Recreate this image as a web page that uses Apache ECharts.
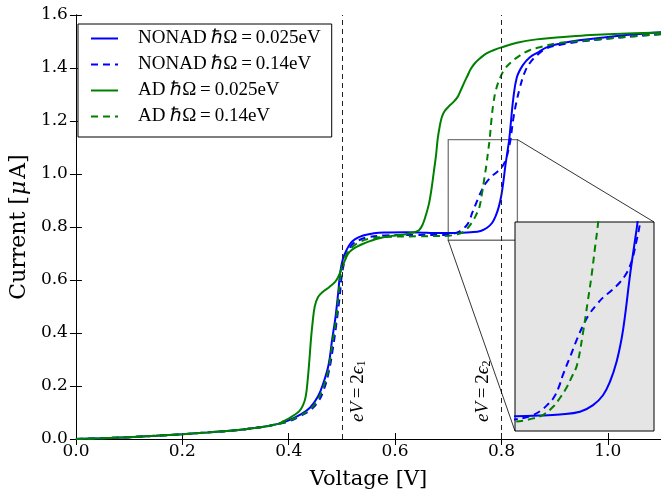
<!DOCTYPE html>
<html>
<head>
<meta charset="utf-8">
<script src="https://cdn.jsdelivr.net/npm/echarts@6/dist/echarts.min.js"></script>
<style>
  html, body { margin: 0; padding: 0; background: #fff; }
  #chart { width: 661px; height: 495px; }
</style>
</head>
<body>
<div id="chart"></div>
<script>
// shared low-bias tail, identical for all four curves
var lowTail = [[0,0],[0.05,0.003],[0.1,0.007],[0.15,0.012],[0.2,0.018],[0.25,0.025],[0.3,0.033],[0.35,0.045],[0.38,0.057]];

var nonad025 = [[0.4,0.07],[0.42,0.09],[0.44,0.118],[0.455,0.16],[0.465,0.21],[0.475,0.28],[0.482,0.38],[0.488,0.46],
  [0.493,0.55],[0.497,0.63],[0.502,0.68],[0.507,0.705],[0.515,0.735],[0.525,0.754],[0.54,0.768],[0.56,0.776],[0.58,0.779],
  [0.62,0.78],[0.66,0.778],[0.70,0.777],[0.7234,0.778],[0.742,0.780],[0.7608,0.785],[0.773,0.797],[0.7823,0.815],
  [0.7889,0.84],[0.795,0.876],[0.7998,0.919],[0.803,0.961],[0.8076,1.034],[0.812,1.094],[0.8146,1.13],[0.818,1.2],[0.822,1.28],
  [0.829,1.365],[0.84,1.41],[0.853,1.44],[0.87,1.46],[0.885,1.478],[0.91,1.492],[0.946,1.505],[1.0,1.517],[1.05,1.527],[1.1,1.535]];

var nonad014 = [[0.4,0.066],[0.42,0.085],[0.44,0.108],[0.455,0.14],[0.465,0.18],[0.475,0.25],[0.483,0.34],[0.49,0.44],
  [0.496,0.54],[0.5,0.62],[0.505,0.67],[0.512,0.71],[0.52,0.735],[0.534,0.752],[0.55,0.762],[0.58,0.768],[0.64,0.77],
  [0.69,0.77],[0.70,0.771],[0.714,0.777],[0.7234,0.786],[0.73,0.797],[0.736,0.81],[0.741,0.83],[0.745,0.853],[0.752,0.887],
  [0.758,0.917],[0.764,0.943],[0.770,0.964],[0.776,0.979],[0.782,0.992],[0.79,1.005],[0.798,1.02],[0.804,1.036],
  [0.809,1.058],[0.813,1.09],[0.8169,1.128],[0.822,1.204],[0.828,1.27],[0.835,1.328],[0.843,1.38],[0.853,1.418],
  [0.868,1.45],[0.885,1.474],[0.909,1.487],[0.95,1.5],[0.996,1.51],[1.05,1.52],[1.1,1.527]];

var ad025 = [[0.39,0.067],[0.4,0.077],[0.41,0.09],[0.42,0.105],[0.427,0.128],[0.432,0.16],[0.436,0.229],[0.439,0.3],
  [0.442,0.379],[0.445,0.44],[0.449,0.5],[0.455,0.535],[0.464,0.555],[0.476,0.573],[0.488,0.595],[0.495,0.62],
  [0.501,0.65],[0.507,0.68],[0.514,0.705],[0.525,0.722],[0.538,0.735],[0.55,0.745],[0.562,0.753],[0.58,0.762],
  [0.6,0.768],[0.62,0.773],[0.635,0.78],[0.645,0.788],[0.652,0.81],[0.658,0.845],[0.664,0.89],[0.669,0.95],
  [0.673,1.01],[0.677,1.07],[0.68,1.13],[0.684,1.18],[0.688,1.215],[0.693,1.237],[0.7,1.253],[0.71,1.272],
  [0.718,1.292],[0.724,1.318],[0.73,1.345],[0.736,1.37],[0.742,1.395],[0.75,1.418],[0.76,1.437],[0.772,1.455],
  [0.785,1.467],[0.8,1.478],[0.829,1.495],[0.866,1.508],[0.903,1.515],[0.95,1.522],[1.0,1.527],[1.05,1.531],[1.1,1.534]];

var ad014 = [[0.4,0.068],[0.42,0.087],[0.44,0.112],[0.455,0.15],[0.465,0.195],[0.475,0.265],[0.482,0.36],[0.489,0.45],
  [0.494,0.55],[0.498,0.625],[0.503,0.67],[0.51,0.7],[0.52,0.725],[0.535,0.745],[0.55,0.755],[0.58,0.762],[0.64,0.765],
  [0.70,0.767],[0.715,0.772],[0.726,0.779],[0.7356,0.794],[0.742,0.81],[0.748,0.828],[0.753,0.848],[0.758,0.87],
  [0.7637,0.93],[0.768,0.985],[0.7717,1.034],[0.7748,1.083],[0.7777,1.128],[0.781,1.2],[0.785,1.268],[0.79,1.32],
  [0.798,1.365],[0.806,1.395],[0.816,1.418],[0.833,1.445],[0.853,1.467],[0.872,1.478],[0.903,1.493],[0.95,1.502],
  [0.983,1.508],[1.04,1.518],[1.1,1.528]];

var names = ['NONAD ℏΩ\u2009=\u20090.025eV', 'NONAD ℏΩ\u2009=\u20090.14eV', 'AD ℏΩ\u2009=\u20090.025eV', 'AD ℏΩ\u2009=\u20090.14eV'];
var curves = [lowTail.concat(nonad025), lowTail.concat(nonad014), lowTail.concat(ad025), lowTail.concat(ad014)];
var colors = ['#0000ff', '#0000ff', '#008000', '#008000'];
var dashed = [false, true, false, true];

// zoomed window shown in the inset
var insetX = [0.70, 0.83];
var insetY = [0.75, 1.13];
var levels = [0.5, 0.8];

var serif = 'DejaVu Serif';
var mathFont = 'Liberation Serif';

var chart = echarts.init(document.getElementById('chart'));

function mk(i, axisIdx) {
  return {
    name: names[i],
    type: 'line',
    data: curves[i],
    xAxisIndex: axisIdx,
    yAxisIndex: axisIdx,
    symbol: 'none',
    showSymbol: false,
    smooth: 0.4,
    lineStyle: { color: colors[i], width: 2, type: dashed[i] ? [7, 5] : 'solid' },
    itemStyle: { color: colors[i] },
    z: axisIdx ? 8 : 3
  };
}

var tickFmt = function (v) {
  return Math.abs(v * 5 - Math.round(v * 5)) < 1e-6 ? v.toFixed(1) : '';
};

var epsLabel = function (sub, pos, dist) {
  return {
    show: true,
    position: pos,
    distance: dist,
    formatter: '{i|eV}{r|\u2009=\u20092}{i|ϵ}{s|' + sub + '}',
    rich: {
      i: { fontFamily: mathFont, fontStyle: 'italic', fontSize: 19, color: '#000' },
      r: { fontFamily: mathFont, fontSize: 19, color: '#000' },
      s: { fontFamily: mathFont, fontSize: 12, color: '#000', padding: [7, 0, 0, 0] }
    }
  };
};

var series = [];
for (var i = 0; i < 4; i++) series.push(mk(i, 0));
for (var j = 0; j < 4; j++) series.push(mk(j, 2));

series[0].markLine = {
  silent: true,
  symbol: 'none',
  animation: false,
  lineStyle: { color: '#222', width: 1, type: [5, 4] },
  data: [
    { xAxis: levels[0], label: epsLabel('1', 'insideStartBottom', [17, 7]) },
    { xAxis: levels[1], label: epsLabel('2', 'insideStartTop', [17, 9]) }
  ]
};
series[0].markArea = {
  silent: true,
  itemStyle: { color: 'rgba(0,0,0,0)', borderColor: '#777', borderWidth: 1.3 },
  data: [[{ coord: [insetX[0], insetY[0]] }, { coord: [insetX[1], insetY[1]] }]]
};

var mainX = {
  gridIndex: 0, type: 'value', min: 0, max: 1.1, interval: 0.2,
  axisLine: { show: true, lineStyle: { color: '#000', width: 1 } },
  axisTick: { show: true, inside: true, length: 6, lineStyle: { color: '#000' } },
  splitLine: { show: false }
};
var mainY = {
  gridIndex: 0, type: 'value', min: 0, max: 1.6, interval: 0.2,
  axisLine: { show: true, lineStyle: { color: '#000', width: 1 } },
  axisTick: { show: true, inside: true, length: 6, lineStyle: { color: '#000' } },
  splitLine: { show: false }
};

chart.setOption({
  animation: false,
  backgroundColor: '#fff',
  grid: [
    { left: 70, top: 15, width: 593, height: 426 },
    { left: 515, top: 222, width: 139, height: 209, show: true, backgroundColor: '#e5e5e5', borderColor: '#000', borderWidth: 1, z: 5 }
  ],
  legend: {
    data: names,
    orient: 'vertical',
    left: 78, top: 24,
    padding: [5, 11, 11, 12],
    itemWidth: 27, itemHeight: 14, itemGap: 7,
    itemStyle: { opacity: 0 },
    borderColor: '#000', borderWidth: 1, backgroundColor: '#fff',
    textStyle: { fontFamily: mathFont, fontSize: 19, color: '#000', padding: [0, 0, 0, 15], lineHeight: 19 },
    selectedMode: false
  },
  xAxis: [
    Object.assign({}, mainX, {
      position: 'bottom',
      name: 'Voltage [V]', nameLocation: 'middle', nameGap: 30,
      nameTextStyle: { fontFamily: serif, fontSize: 21, color: '#000' },
      axisLabel: { fontFamily: serif, fontSize: 17, color: '#000', margin: 4, formatter: tickFmt, showMaxLabel: false }
    }),
    Object.assign({}, mainX, { position: 'top', axisLabel: { show: false } }),
    { gridIndex: 1, type: 'value', min: insetX[0], max: insetX[1], show: false }
  ],
  yAxis: [
    Object.assign({}, mainY, {
      position: 'left',
      name: 'Current [{i|μ}A]', nameLocation: 'middle', nameGap: 42,
      nameTextStyle: { fontFamily: serif, fontSize: 22, color: '#000',
        rich: { i: { fontFamily: serif, fontStyle: 'italic', fontSize: 22, color: '#000', padding: [0, 2, 0, 1] } } },
      axisLabel: { fontFamily: serif, fontSize: 17, color: '#000', margin: 8, formatter: function (v) { return v.toFixed(1); } }
    }),
    Object.assign({}, mainY, { position: 'right', axisLabel: { show: false } }),
    { gridIndex: 1, type: 'value', min: insetY[0], max: insetY[1], show: false }
  ],
  series: series
});

// connector lines between the zoom box and the inset
var pTR = chart.convertToPixel({ gridIndex: 0 }, [insetX[1], insetY[1]]);
var pBL = chart.convertToPixel({ gridIndex: 0 }, [insetX[0], insetY[0]]);
var qTR = chart.convertToPixel({ gridIndex: 1 }, [insetX[1], insetY[1]]);
var qBL = chart.convertToPixel({ gridIndex: 1 }, [insetX[0], insetY[0]]);
chart.setOption({
  graphic: [
    { type: 'line', z: 10, shape: { x1: pTR[0], y1: pTR[1], x2: qTR[0], y2: qTR[1] }, style: { stroke: '#000', lineWidth: 0.8 } },
    { type: 'line', z: 10, shape: { x1: pBL[0], y1: pBL[1], x2: qBL[0], y2: qBL[1] }, style: { stroke: '#000', lineWidth: 0.8 } }
  ]
});
</script>
</body>
</html>
